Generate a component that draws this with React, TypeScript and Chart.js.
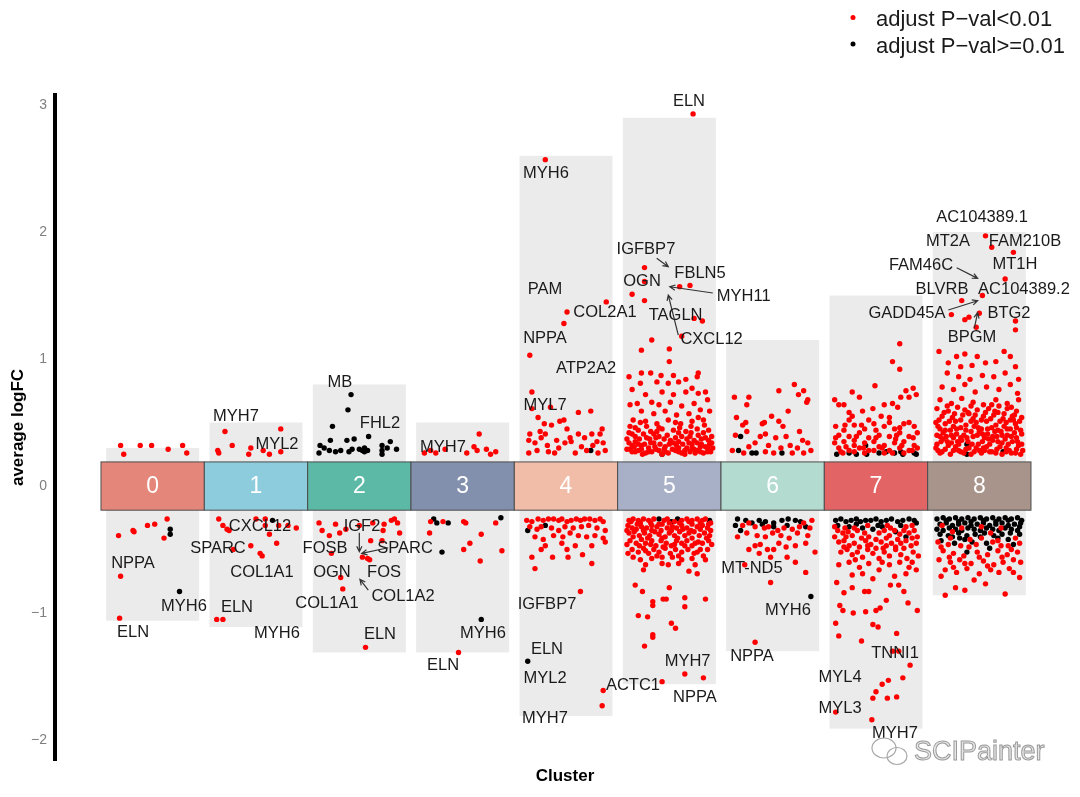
import { useEffect, useRef } from 'react';
import { Chart, registerables } from 'chart.js';

Chart.register(...registerables);

const FONT = "'Liberation Sans', Arial, sans-serif";

const clusters = ['0', '1', '2', '3', '4', '5', '6', '7', '8'];
const clusterColors = ['#E4877A', '#8DCCDD', '#5BB9A6', '#8290AE', '#F1BDA8', '#A8B0C8', '#B3DBCF', '#E26464', '#A8948A'];
const columnTop = [0.30, 0.50, 0.80, 0.50, 2.60, 2.90, 1.15, 1.50, 2.00];
const columnBottom = [-1.06, -1.11, -1.31, -1.31, -1.81, -1.56, -1.30, -1.91, -0.86];
const yTicks = [-2, -1, 0, 1, 2, 3];

// [jitter offset within cluster, average logFC]
const sig0 = [[-0.31,0.32],[-0.28,0.25],[-0.12,0.32],[-0.01,0.32],[0.15,0.29],[0.29,0.32],[0.33,0.26],
  [0.14,-0.26],[-0.33,-0.39],[-0.19,-0.35],[-0.18,-0.36],[-0.05,-0.31],[0.02,-0.30],[0.11,-0.41],[-0.31,-0.71],[-0.32,-1.04]];
const ns0 = [[0.17,-0.34],[0.17,-0.38],[0.26,-0.83]];

const sig1 = [[-0.30,0.43],[-0.37,0.28],[-0.36,0.26],[-0.23,0.32],[-0.05,0.30],[-0.07,0.25],[0.07,0.28],[0.13,0.25],[0.24,0.45],[0.24,0.27],
  [-0.36,-0.26],[-0.32,-0.31],[-0.26,-0.35],[-0.28,-0.34],[0.0,-0.26],[0.09,-0.26],[0.09,-0.31],[0.13,-0.38],[0.22,-0.31],[0.31,-0.31],[0.39,-0.33],
  [0.2,-0.45],[-0.05,-0.47],[-0.22,-0.50],[0.04,-0.53],[0.06,-0.55],[-0.38,-1.05],[-0.32,-1.05]];
const ns1 = [[0.16,-0.27]];

const sig2 = [[-0.39,-0.29],[-0.36,-0.35],[-0.29,-0.39],[-0.19,-0.37],[-0.13,-0.34],[-0.23,-0.30],[0.0,-0.31],[0.13,-0.29],[0.24,-0.30],[0.23,-0.35],
  [0.34,-0.26],[0.37,-0.29],[0.39,-0.37],[0.31,-0.27],[0.11,-0.43],[0.22,-0.43],[-0.27,-0.53],[0.03,-0.56],[0.08,-0.57],[0.10,-0.58],[-0.18,-0.72],[-0.16,-0.81],[0.06,-1.27]];
const ns2 = [[-0.08,0.72],[-0.11,0.60],[-0.26,0.47],[0.09,0.39],[-0.28,0.36],[-0.12,0.36],[-0.05,0.37],[0.30,0.35],[-0.38,0.32],[-0.34,0.30],
  [-0.29,0.28],[-0.39,0.26],[-0.23,0.27],[-0.18,0.28],[-0.10,0.27],[-0.07,0.29],[0.0,0.29],[0.03,0.28],[0.05,0.27],[0.08,0.28],[0.05,0.30],
  [0.22,0.28],[0.22,0.32],[0.27,0.30],[0.36,0.29],[0.22,0.25]];

const sig3 = [[0.16,0.41],[-0.37,0.26],[-0.31,0.28],[-0.26,0.26],[-0.17,0.29],[0.04,0.26],[0.11,0.31],[0.14,0.28],[0.23,0.29],[0.27,0.25],[0.32,0.27],
  [-0.31,-0.28],[-0.19,-0.28],[0.01,-0.28],[0.03,-0.29],[-0.32,-0.37],[0.18,-0.38],[0.32,-0.29],[0.07,-0.45],[0.01,-0.50],[0.17,-0.59],[0.38,-0.51],[-0.04,-1.31]];
const ns3 = [[-0.28,-0.26],[-0.25,-0.29],[-0.14,-0.29],[0.37,-0.25],[-0.2,-0.52],[0.18,-1.05]];

const sig4 = [[-0.20,2.57],[0.39,1.45],[0.01,1.37],[-0.02,1.28],[-0.35,1.03],[-0.33,0.74],[-0.33,0.61],[-0.15,0.62],[0.12,0.58],[0.24,0.59],
  [-0.27,0.54],[-0.21,0.49],[-0.14,0.48],[-0.06,0.51],[-0.02,0.52],[-0.25,0.43],[-0.35,0.41],[-0.20,0.41],[-0.09,0.36],[0.01,0.45],[0.04,0.38],
  [0.05,0.35],[0.12,0.41],[0.18,0.38],[0.35,0.45],[0.33,0.41],[0.30,0.35],[0.36,0.34],[0.38,0.28],[-0.36,0.36],[-0.30,0.34],[-0.36,0.26],
  [-0.28,0.28],[-0.17,0.27],[-0.11,0.26],[-0.07,0.30],[0.15,0.31],[0.20,0.28],[0.26,0.32],[0.31,0.26],[-0.24,0.38],[0.25,0.41],[0.09,0.26],
  [-0.18,0.32],[-0.01,0.34],
  [-0.38,-0.27],[-0.33,-0.28],[-0.27,-0.26],[-0.22,-0.27],[-0.17,-0.26],[-0.12,-0.26],[-0.07,-0.27],[-0.04,-0.26],[0.01,-0.28],[0.05,-0.27],
  [0.10,-0.26],[0.14,-0.27],[0.18,-0.26],[0.23,-0.26],[0.28,-0.27],[0.33,-0.26],[0.36,-0.28],
  [-0.35,-0.32],[-0.28,-0.34],[-0.24,-0.32],[-0.14,-0.33],[-0.07,-0.35],[-0.01,-0.32],[0.07,-0.33],[0.15,-0.32],[0.22,-0.31],[0.30,-0.33],[0.38,-0.35],
  [-0.30,-0.40],[-0.22,-0.42],[-0.12,-0.39],[-0.03,-0.40],[0.04,-0.37],[0.12,-0.39],[0.20,-0.40],[0.28,-0.39],[0.36,-0.41],
  [-0.20,-0.47],[-0.04,-0.45],[0.09,-0.47],[0.25,-0.47],[0.38,-0.44],[-0.24,-0.50],[0.01,-0.50],
  [-0.33,-0.56],[-0.30,-0.65],[-0.13,-0.56],[0.02,-0.56],[0.16,-0.54],[0.25,-0.61],[0.14,-0.83],[0.36,-1.61],[0.35,-1.73]];
const ns4 = [[0.24,0.28],[-0.37,-0.35],[-0.20,-0.31],[-0.37,-1.38]];

const sig5 = [[0.23,2.93],[-0.24,1.72],[0.10,1.57],[0.20,1.58],[-0.24,1.61],[-0.36,1.51],[-0.24,1.46],[0.24,1.32],[0.32,1.30],[0.12,1.18],
  [-0.17,1.15],[-0.27,1.07],[0.0,1.08],[0.0,0.98],
  [-0.39,0.86],[-0.27,0.89],[-0.18,0.89],[-0.08,0.87],[0.04,0.87],[0.16,0.84],[0.27,0.86],[0.28,0.89],[-0.28,0.81],[-0.12,0.82],[-0.01,0.81],
  [0.09,0.82],[0.22,0.77],[0.35,0.74],[-0.36,0.76],[-0.23,0.72],[-0.07,0.74],[0.04,0.72],[0.16,0.74],[0.28,0.73],[-0.31,0.65],[-0.17,0.66],
  [-0.10,0.64],[0.01,0.66],[0.12,0.63],[0.24,0.65],[0.37,0.68],[-0.38,0.64],[-0.27,0.59],[-0.15,0.57],[-0.04,0.59],[0.07,0.56],[0.19,0.57],
  [0.30,0.60],[0.39,0.59],[-0.35,0.52],[-0.23,0.51],[-0.12,0.49],[-0.01,0.52],[0.11,0.49],[0.22,0.51],[0.33,0.52],[-0.38,0.47],[-0.30,0.44],
  [-0.18,0.43],[-0.07,0.45],[0.04,0.44],[0.16,0.43],[0.27,0.45],[0.38,0.44],[-0.33,0.39],[-0.22,0.38],[-0.10,0.39],[0.01,0.36],[0.12,0.39],
  [0.24,0.36],[0.35,0.38],[-0.39,0.34],[-0.27,0.32],[-0.15,0.34],[-0.04,0.31],[0.07,0.32],[0.19,0.34],[0.30,0.31],[0.41,0.34],[-0.36,0.27],
  [-0.30,0.28],[-0.23,0.26],[-0.17,0.27],[-0.10,0.28],[-0.01,0.26],[0.06,0.28],[0.12,0.26],[0.20,0.27],[0.27,0.28],[0.33,0.26],[0.40,0.27],
  [-0.34,0.31],[-0.20,0.30],[-0.07,0.25],[0.17,0.30],[0.37,0.30],[-0.33,0.35],[-0.12,0.43],[0.09,0.35],[0.28,0.40],[-0.39,0.42],[0.41,0.39],
  [-0.26,0.25],[0.15,0.25],[0.25,0.26],[-0.05,0.29],[0.22,0.30],[-0.14,0.31],[0.31,0.33],[-0.30,0.33],[0.09,0.27],[-0.38,0.29],[0.35,0.31],
  [-0.41,0.29],[-0.33,0.27],[-0.27,0.29],[-0.20,0.27],[-0.13,0.29],[-0.04,0.27],[0.03,0.29],[0.09,0.30],[0.15,0.28],[0.24,0.29],[0.30,0.27],
  [0.37,0.27],[0.42,0.30],[-0.36,0.32],[-0.24,0.33],[-0.18,0.34],[-0.09,0.33],[0.0,0.33],[0.04,0.34],[0.13,0.33],[0.22,0.33],[0.27,0.34],
  [0.39,0.33],[-0.41,0.37],[-0.29,0.37],[-0.19,0.37],[-0.13,0.38],[-0.05,0.37],[0.06,0.38],[0.17,0.37],[0.20,0.39],[0.31,0.37],[0.38,0.36],
  [-0.36,0.41],[-0.25,0.41],[-0.15,0.41],[-0.02,0.40],[0.09,0.42],[0.21,0.42],[0.33,0.42],[-0.33,0.46],[-0.22,0.47],[-0.10,0.46],[0.10,0.46],
  [0.21,0.47],[0.34,0.48],[-0.28,0.50],[0.06,0.50],[0.28,0.54],
  [-0.39,-0.27],[-0.35,-0.26],[-0.30,-0.27],[-0.25,-0.26],[-0.20,-0.27],[-0.15,-0.26],[-0.05,-0.27],[-0.02,-0.26],[0.12,-0.27],[0.17,-0.26],
  [0.22,-0.27],[0.27,-0.26],[0.32,-0.27],[0.35,-0.26],
  [-0.40,-0.31],[-0.36,-0.33],[-0.31,-0.30],[-0.27,-0.32],[-0.22,-0.33],[-0.17,-0.31],[-0.12,-0.32],[-0.07,-0.30],[-0.02,-0.33],[0.03,-0.32],
  [0.07,-0.33],[0.12,-0.31],[0.17,-0.33],[0.22,-0.30],[0.27,-0.32],[0.32,-0.31],[0.37,-0.33],[0.40,-0.29],
  [-0.39,-0.37],[-0.34,-0.36],[-0.29,-0.39],[-0.24,-0.37],[-0.19,-0.39],[-0.14,-0.36],[-0.10,-0.38],[-0.04,-0.40],[0.0,-0.37],[0.05,-0.39],
  [0.10,-0.36],[0.15,-0.39],[0.19,-0.37],[0.24,-0.36],[0.29,-0.39],[0.34,-0.37],[0.39,-0.39],
  [-0.38,-0.43],[-0.32,-0.45],[-0.27,-0.42],[-0.23,-0.45],[-0.17,-0.43],[-0.13,-0.47],[-0.08,-0.43],[-0.03,-0.45],[0.02,-0.47],[0.07,-0.43],
  [0.12,-0.45],[0.17,-0.43],[0.22,-0.47],[0.28,-0.44],[0.32,-0.45],[0.38,-0.43],
  [-0.36,-0.50],[-0.30,-0.52],[-0.25,-0.49],[-0.20,-0.53],[-0.15,-0.50],[-0.10,-0.52],[-0.04,-0.49],[0.01,-0.53],[0.06,-0.50],[0.12,-0.52],
  [0.18,-0.50],[0.24,-0.53],[0.30,-0.50],[0.37,-0.50],
  [-0.35,-0.56],[-0.28,-0.58],[-0.17,-0.57],[-0.07,-0.56],[0.03,-0.56],[0.12,-0.58],[0.22,-0.57],[0.35,-0.58],
  [-0.23,-0.62],[-0.25,-0.66],[-0.07,-0.61],[-0.01,-0.62],[0.09,-0.61],[0.25,-0.62],[0.27,-0.69],[0.19,-0.67],
  [-0.37,-0.28],[-0.28,-0.29],[-0.18,-0.29],[-0.10,-0.30],[0.0,-0.29],[0.05,-0.28],[0.10,-0.29],[0.19,-0.28],[0.30,-0.29],[0.38,-0.30],
  [-0.41,-0.35],[-0.32,-0.34],[-0.25,-0.35],[-0.17,-0.35],[-0.08,-0.35],[0.02,-0.35],[0.13,-0.34],[0.21,-0.35],[0.30,-0.34],[0.40,-0.35],
  [-0.35,-0.40],[-0.21,-0.41],[-0.07,-0.41],[0.08,-0.41],[0.22,-0.41],[0.36,-0.41],
  [-0.41,-0.46],[-0.29,-0.47],[-0.18,-0.46],[-0.06,-0.48],[0.05,-0.46],[0.15,-0.47],[0.25,-0.45],[0.41,-0.46],
  [-0.40,-0.53],[-0.23,-0.51],[-0.12,-0.55],[0.09,-0.55],[0.27,-0.52],[0.33,-0.55],
  [-0.33,-0.78],[-0.26,-0.83],[-0.30,-1.02],[-0.21,-1.03],[-0.16,-0.91],[-0.16,-0.94],[-0.06,-0.89],[-0.03,-0.89],[0.0,-0.80],[0.15,-0.88],
  [0.15,-0.95],[0.35,-0.89],[0.02,-1.08],[0.06,-1.12],[-0.16,-1.17],[-0.16,-1.19],[-0.24,-1.26],[0.15,-1.48],[0.33,-1.51],[-0.07,-1.54]];
const ns5 = [[-0.07,0.25],[0.38,0.28],[-0.10,-0.26],[0.02,-0.28],[0.08,-0.26],[0.39,-0.27]];

const sig6 = [[-0.37,0.70],[-0.23,0.70],[-0.25,0.64],[-0.35,0.54],[0.06,0.75],[0.21,0.80],[0.30,0.75],[0.25,0.72],[0.34,0.68],[0.33,0.66],
  [0.15,0.59],[-0.01,0.55],[-0.08,0.50],[-0.10,0.49],[0.06,0.51],[0.10,0.47],[-0.29,0.48],[-0.26,0.50],[-0.07,0.41],[0.03,0.38],[-0.36,0.40],
  [-0.25,0.43],[-0.17,0.34],[-0.12,0.39],[-0.04,0.32],[0.13,0.39],[0.17,0.32],[0.26,0.43],[0.29,0.36],[0.34,0.34],[0.37,0.28],[0.24,0.30],
  [0.08,0.30],[-0.07,0.27],[-0.23,0.31],[-0.39,0.28],[0.01,0.26],[0.19,0.26],[0.30,0.26],[-0.28,0.26],
  [-0.29,-0.31],[-0.23,-0.29],[-0.17,-0.32],[-0.08,-0.33],[-0.04,-0.32],[0.05,-0.35],[0.11,-0.33],[0.19,-0.34],[0.26,-0.32],[0.30,-0.29],
  [0.38,-0.27],[0.36,-0.33],[-0.34,-0.40],[-0.25,-0.37],[-0.15,-0.39],[-0.07,-0.40],[0.0,-0.37],[0.08,-0.39],[0.16,-0.41],[0.24,-0.37],
  [0.34,-0.39],[-0.23,-0.50],[-0.17,-0.47],[-0.12,-0.46],[-0.05,-0.50],[0.01,-0.50],[0.06,-0.45],[0.13,-0.48],[0.22,-0.47],[0.32,-0.45],
  [0.41,-0.52],[0.22,-0.60],[0.14,-0.56],[-0.02,-0.56],[-0.13,-0.53],[0.32,-0.68],[-0.02,-0.76],[-0.27,-0.62],[-0.17,-1.23]];
const ns6 = [[-0.31,0.39],[-0.33,0.28],[-0.20,0.26],[-0.16,0.26],[0.09,0.26],
  [-0.34,-0.26],[-0.26,-0.27],[-0.20,-0.29],[-0.13,-0.27],[-0.07,-0.28],[0.01,-0.29],[0.09,-0.27],[0.15,-0.26],[0.22,-0.27],[0.27,-0.28],
  [-0.31,-0.35],[0.01,-0.32],[0.14,-0.31],[0.32,-0.32],[-0.10,-0.30],[-0.36,-0.31],[0.37,-0.87]];

const sig7 = [[0.23,1.12],[0.16,0.98],[0.23,0.92],[-0.01,0.79],[-0.23,0.74],[0.36,0.77],[0.29,0.75],[-0.16,0.70],[0.39,0.72],[-0.40,0.68],
  [-0.31,0.64],[-0.36,0.64],[0.08,0.64],[0.16,0.65],[0.21,0.62],[0.24,0.70],[0.32,0.70],[-0.26,0.58],[-0.23,0.55],[-0.13,0.59],[-0.03,0.61],
  [0.05,0.55],[0.13,0.54],
  [-0.39,0.47],[-0.31,0.44],[-0.21,0.48],[-0.11,0.45],[-0.02,0.49],[0.08,0.47],[0.18,0.45],[0.27,0.49],[0.37,0.47],
  [-0.36,0.40],[-0.26,0.39],[-0.16,0.42],[-0.07,0.38],[0.03,0.40],[0.13,0.39],[0.23,0.42],[0.32,0.39],[0.40,0.42],
  [-0.40,0.34],[-0.31,0.35],[-0.21,0.32],[-0.11,0.34],[-0.02,0.35],[0.08,0.32],[0.18,0.34],[0.27,0.35],[0.37,0.32],
  [-0.36,0.30],[-0.26,0.28],[-0.16,0.30],[-0.07,0.28],[0.03,0.31],[0.13,0.28],[0.23,0.30],[0.32,0.28],[0.40,0.30],
  [-0.32,0.26],[-0.11,0.26],[0.08,0.26],[0.27,0.26],[-0.21,0.36],[0.19,0.37],[-0.26,0.52],[-0.07,0.52],[0.13,0.50],[0.32,0.50],
  [-0.34,0.27],[-0.21,0.27],[-0.02,0.28],[0.16,0.26],[0.35,0.28],[-0.29,0.31],[-0.12,0.30],[0.06,0.30],[0.25,0.32],[-0.39,0.38],
  [-0.19,0.39],[0.0,0.38],[0.20,0.40],[0.36,0.38],[-0.30,0.48],[0.00,0.44],[0.23,0.46],[-0.14,0.48],
  [-0.37,-0.35],[-0.32,-0.37],[-0.27,-0.36],[-0.23,-0.39],[-0.18,-0.35],[-0.11,-0.37],[-0.07,-0.40],[0.03,-0.37],[0.08,-0.35],[0.13,-0.39],
  [0.18,-0.35],[0.23,-0.38],[0.27,-0.35],[0.32,-0.37],[0.37,-0.35],[0.40,-0.40],
  [-0.36,-0.44],[-0.31,-0.43],[-0.26,-0.47],[-0.21,-0.45],[-0.16,-0.48],[-0.10,-0.43],[-0.05,-0.46],[0.0,-0.49],[0.05,-0.44],[0.10,-0.47],
  [0.15,-0.45],[0.19,-0.48],[0.24,-0.45],[0.29,-0.43],[0.34,-0.47],[0.39,-0.45],
  [-0.34,-0.52],[-0.28,-0.50],[-0.23,-0.54],[-0.18,-0.52],[-0.13,-0.56],[-0.08,-0.50],[-0.03,-0.53],[0.03,-0.57],[0.08,-0.52],[0.13,-0.55],
  [0.19,-0.50],[0.24,-0.54],[0.30,-0.57],[0.36,-0.52],[0.41,-0.55],
  [-0.36,-0.62],[-0.26,-0.60],[-0.16,-0.64],[-0.07,-0.61],[0.03,-0.66],[0.13,-0.62],[0.23,-0.60],[0.32,-0.64],[0.39,-0.66],
  [-0.23,-0.70],[-0.13,-0.69],[-0.03,-0.73],[0.18,-0.71],[0.29,-0.69],
  [-0.40,-0.32],[-0.30,-0.33],[-0.21,-0.33],[-0.08,-0.31],[0.11,-0.31],[0.14,-0.33],[0.29,-0.32],[0.35,-0.31],
  [-0.40,-0.40],[-0.29,-0.40],[-0.14,-0.41],[0.0,-0.42],[0.10,-0.41],[0.21,-0.42],[0.35,-0.41],
  [-0.31,-0.48],[-0.08,-0.47],[0.07,-0.49],[0.27,-0.49],[-0.20,-0.58],[0.06,-0.60],[0.35,-0.60],
  [-0.38,-0.76],[-0.31,-0.84],[-0.23,-0.80],[-0.11,-0.83],[-0.07,-0.83],[0.14,-0.78],[0.22,-0.78],[0.27,-0.83],[0.31,-0.92],[-0.35,-0.94],
  [-0.32,-0.98],[-0.22,-1.00],[-0.10,-0.99],[0.0,-0.98],[0.04,-0.96],[0.10,-0.90],[0.40,-0.98],[-0.39,-1.08],[-0.03,-1.09],[0.02,-1.11],
  [-0.36,-1.18],[-0.14,-1.22],[0.20,-1.16],[0.16,-1.30],[0.22,-1.30],[0.33,-1.41],[0.26,-1.51],[0.12,-1.53],[0.06,-1.56],[0.0,-1.62],
  [-0.03,-1.67],[0.11,-1.67],[0.20,-1.66],[-0.39,-1.78],[-0.04,-1.84]];
const ns7 = [[-0.38,0.25],[-0.26,0.26],[-0.19,0.25],[-0.09,0.25],[0.03,0.26],[0.10,0.27],[0.18,0.26],[0.24,0.27],[0.26,0.25],[0.37,0.26],
  [0.39,0.25],[-0.10,0.32],
  [-0.39,-0.27],[-0.34,-0.26],[-0.29,-0.28],[-0.24,-0.27],[-0.19,-0.26],[-0.15,-0.28],[-0.10,-0.27],[-0.05,-0.27],[0.0,-0.26],[0.05,-0.28],
  [0.10,-0.27],[0.15,-0.26],[0.21,-0.28],[0.26,-0.27],[0.32,-0.26],[0.37,-0.27],[-0.37,-0.31],[-0.26,-0.32],[-0.13,-0.33],[-0.03,-0.34],
  [0.06,-0.32],[0.19,-0.36],[0.29,-0.40],[-0.19,-0.30],[0.02,-0.31],[0.39,-0.29],[0.24,-0.31]];

const sig8 = [[0.06,1.97],[0.12,1.88],[0.33,1.84],[0.25,1.63],[0.03,1.50],[-0.17,1.46],[-0.27,1.35],[0.0,1.36],[0.35,1.30],[0.35,1.23],
  [-0.10,1.33],[-0.14,1.31],[-0.03,1.25],
  [-0.39,1.06],[-0.30,0.97],[-0.22,1.02],[-0.14,1.04],[-0.18,0.94],[-0.07,0.95],[-0.02,1.02],[0.06,0.97],[0.16,0.98],[0.24,1.06],[0.30,1.02],
  [0.35,0.94],[-0.31,0.89],[-0.20,0.86],[-0.09,0.84],[0.03,0.87],[0.14,0.86],[0.25,0.89],[0.38,0.84],[-0.36,0.78],[-0.25,0.76],[-0.14,0.80],
  [-0.04,0.74],[0.07,0.78],[0.19,0.76],[0.30,0.80],[0.37,0.73],[-0.38,0.68],[-0.27,0.65],[-0.17,0.69],[-0.06,0.66],[0.04,0.64],[0.16,0.68],
  [0.27,0.65],[0.38,0.68],
  [-0.41,0.61],[-0.30,0.59],[-0.21,0.62],[-0.11,0.58],[-0.02,0.60],[0.09,0.61],[0.18,0.58],[0.27,0.61],[0.36,0.59],
  [-0.36,0.55],[-0.26,0.54],[-0.16,0.56],[-0.06,0.53],[0.04,0.55],[0.14,0.56],[0.23,0.53],[0.32,0.55],[0.41,0.54],
  [-0.42,0.50],[-0.33,0.49],[-0.23,0.51],[-0.13,0.48],[-0.03,0.50],[0.07,0.51],[0.16,0.48],[0.26,0.50],[0.35,0.49],
  [-0.38,0.45],[-0.28,0.44],[-0.18,0.46],[-0.08,0.43],[0.02,0.45],[0.12,0.46],[0.21,0.43],[0.30,0.45],[0.40,0.44],
  [-0.41,0.40],[-0.32,0.39],[-0.22,0.41],[-0.12,0.38],[-0.02,0.40],[0.08,0.41],[0.17,0.39],[0.27,0.40],[0.36,0.38],
  [-0.37,0.35],[-0.27,0.34],[-0.17,0.36],[-0.07,0.33],[0.03,0.35],[0.13,0.36],[0.22,0.34],[0.32,0.35],[0.41,0.33],
  [-0.42,0.30],[-0.33,0.29],[-0.23,0.31],[-0.13,0.29],[-0.03,0.30],[0.07,0.31],[0.17,0.29],[0.26,0.30],[0.36,0.29],
  [-0.38,0.26],[-0.28,0.25],[-0.18,0.27],[-0.08,0.25],[0.02,0.26],[0.12,0.27],[0.22,0.25],[0.31,0.26],[0.40,0.25],
  [-0.35,0.42],[-0.05,0.47],[0.25,0.37],[0.10,0.33],[-0.20,0.28],[0.33,0.52],[-0.10,0.57],[0.19,0.63],[-0.25,0.38],[0.05,0.28],
  [-0.40,0.28],[-0.30,0.32],[-0.20,0.33],[-0.10,0.30],[0.0,0.28],[0.10,0.27],[0.20,0.31],[0.29,0.28],[0.38,0.32],[-0.35,0.37],
  [-0.15,0.40],[0.05,0.38],[0.15,0.43],[0.34,0.42],[-0.25,0.47],[0.0,0.43],[0.24,0.47],[-0.40,0.47],
  [-0.36,0.27],[-0.25,0.28],[-0.15,0.26],[-0.05,0.27],[0.04,0.30],[0.16,0.26],[0.26,0.27],[0.35,0.26],[0.42,0.28],
  [-0.41,0.33],[-0.31,0.35],[-0.21,0.35],[-0.11,0.35],[-0.01,0.33],[0.09,0.37],[0.18,0.35],[0.28,0.33],[0.37,0.35],
  [-0.38,0.39],[-0.27,0.40],[-0.18,0.38],[-0.06,0.39],[0.03,0.41],[0.13,0.39],[0.22,0.40],[0.31,0.39],[0.41,0.41],
  [-0.33,0.44],[-0.22,0.45],[-0.13,0.44],[-0.01,0.46],[0.08,0.45],[0.18,0.44],[0.27,0.45],[0.36,0.46],
  [-0.39,0.52],[-0.29,0.51],[-0.18,0.52],[-0.08,0.51],[0.02,0.52],[0.11,0.53],[0.20,0.51],[0.30,0.52],[0.39,0.51],
  [-0.34,0.58],[-0.24,0.57],[-0.14,0.60],[-0.04,0.56],[0.06,0.58],[0.15,0.59],[0.24,0.57],[0.34,0.56],
  [-0.31,0.63],[-0.08,0.63],[0.12,0.64],[0.31,0.62],
  [-0.36,-0.31],[-0.17,-0.33],[0.02,-0.32],[0.21,-0.33],[-0.26,-0.36],[0.11,-0.37],[0.35,-0.41],
  [-0.40,-0.44],[-0.30,-0.46],[-0.18,-0.47],[-0.03,-0.46],[0.13,-0.44],[0.21,-0.47],[0.39,-0.45],
  [-0.35,-0.51],[-0.25,-0.53],[-0.15,-0.55],[-0.02,-0.52],[0.08,-0.54],[0.18,-0.51],[0.27,-0.54],[0.37,-0.52],
  [-0.39,-0.58],[-0.28,-0.60],[-0.19,-0.58],[-0.08,-0.61],[0.04,-0.59],[0.14,-0.62],[0.23,-0.60],[0.33,-0.58],
  [-0.33,-0.66],[-0.22,-0.68],[-0.12,-0.65],[0.0,-0.69],[0.11,-0.66],[0.19,-0.68],[0.29,-0.65],[0.39,-0.72],[-0.37,-0.71],
  [-0.23,-0.80],[-0.14,-0.82],[-0.33,-0.86],[0.25,-0.85],[0.06,-0.77],[-0.05,-0.74],
  [-0.28,-0.41],[-0.09,-0.42],[0.02,-0.41],[0.18,-0.43],[0.28,-0.47],[-0.37,-0.48],[-0.10,-0.48],[0.31,-0.50],[-0.29,-0.56],[0.00,-0.56],
  [0.22,-0.56],[0.40,-0.60],[-0.14,-0.61],[-0.25,-0.64],[0.08,-0.63],[0.33,-0.68]];
const ns8 = [[-0.12,0.33],[-0.12,0.25],[0.23,0.27],
  [-0.41,-0.26],[-0.35,-0.25],[-0.29,-0.26],[-0.23,-0.25],[-0.17,-0.26],[-0.11,-0.25],[-0.05,-0.26],[0.01,-0.25],[0.07,-0.26],[0.13,-0.25],
  [0.19,-0.26],[0.25,-0.25],[0.31,-0.26],[0.37,-0.25],[0.41,-0.27],
  [-0.38,-0.30],[-0.32,-0.29],[-0.26,-0.31],[-0.20,-0.30],[-0.14,-0.29],[-0.08,-0.31],[-0.02,-0.30],[0.04,-0.29],[0.10,-0.31],[0.16,-0.30],
  [0.22,-0.29],[0.28,-0.31],[0.34,-0.30],[0.40,-0.29],
  [-0.41,-0.34],[-0.35,-0.35],[-0.29,-0.33],[-0.23,-0.34],[-0.17,-0.35],[-0.11,-0.33],[-0.05,-0.34],[0.01,-0.35],[0.07,-0.33],[0.13,-0.34],
  [0.19,-0.35],[0.25,-0.33],[0.31,-0.34],[0.37,-0.35],
  [-0.38,-0.38],[-0.30,-0.39],[-0.20,-0.37],[-0.12,-0.39],[-0.04,-0.38],[0.05,-0.37],[0.14,-0.39],[0.22,-0.38],[0.30,-0.37],[0.39,-0.38],
  [-0.37,-0.43],[-0.24,-0.45],[-0.14,-0.42],[-0.07,-0.44],[0.07,-0.45],[0.28,-0.42],[0.33,-0.46],[-0.12,-0.52],[-0.19,-0.41],[0.10,-0.49],
  [-0.32,-0.27],[-0.20,-0.28],[-0.08,-0.28],[0.04,-0.27],[0.16,-0.28],[0.28,-0.27],[0.39,-0.32],[-0.26,-0.40],[0.18,-0.41],[0.01,-0.40]];

const sigByCluster = [sig0, sig1, sig2, sig3, sig4, sig5, sig6, sig7, sig8];
const nsByCluster = [ns0, ns1, ns2, ns3, ns4, ns5, ns6, ns7, ns8];

// gene label text, x (cluster axis units), average logFC
const geneLabels: [string, number, number][] = [
  ['NPPA', -0.19, -0.606], ['MYH6', 0.303, -0.945], ['ELN', -0.19, -1.15],
  ['MYH7', 0.806, 0.551], ['MYL2', 1.203, 0.331], ['CXCL12', 1.039, -0.315], ['SPARC', 0.632, -0.488],
  ['COL1A1', 1.058, -0.677], ['ELN', 0.816, -0.953], ['MYH6', 1.203, -1.158],
  ['MB', 1.813, 0.819], ['FHL2', 2.2, 0.496], ['IGF2', 2.026, -0.315], ['FOSB', 1.668, -0.488], ['SPARC', 2.442, -0.488],
  ['OGN', 1.735, -0.677], ['FOS', 2.239, -0.677], ['COL1A2', 2.423, -0.866], ['COL1A1', 1.687, -0.921], ['ELN', 2.2, -1.165],
  ['MYH7', 2.81, 0.307], ['MYH6', 3.197, -1.158], ['ELN', 2.81, -1.409],
  ['MYH6', 3.807, 2.465], ['PAM', 3.797, 1.551], ['COL2A1', 4.377, 1.37], ['NPPA', 3.797, 1.165], ['ATP2A2', 4.194, 0.929],
  ['MYL7', 3.797, 0.638], ['IGFBP7', 3.816, -0.929], ['ELN', 3.816, -1.283], ['MYL2', 3.797, -1.512], ['MYH7', 3.797, -1.827],
  ['ACTC1', 4.648, -1.567],
  ['ELN', 5.19, 3.031], ['IGFBP7', 4.774, 1.866], ['OGN', 4.736, 1.614], ['FBLN5', 5.297, 1.677], ['MYH11', 5.72, 1.496],
  ['TAGLN', 5.061, 1.346], ['CXCL12', 5.409, 1.157], ['MYH7', 5.177, -1.378], ['NPPA', 5.248, -1.661],
  ['MT-ND5', 5.80, -0.646], ['MYH6', 6.149, -0.976], ['NPPA', 5.80, -1.339],
  ['GADD45A', 7.30, 1.362], ['TNNI1', 7.184, -1.315], ['MYL4', 6.652, -1.504], ['MYL3', 6.652, -1.748], ['MYH7', 7.184, -1.945],
  ['AC104389.1', 8.026, 2.118], ['MT2A', 7.697, 1.929], ['FAM210B', 8.442, 1.929], ['FAM46C', 7.436, 1.74], ['MT1H', 8.345, 1.748],
  ['BLVRB', 7.639, 1.551], ['AC104389.2', 8.432, 1.551], ['BTG2', 8.287, 1.362], ['BPGM', 7.929, 1.173],
];

// label connector arrows: from (x1, y1) to (x2, y2)
const labelArrows: [number, number, number, number][] = [
  [2.0, -0.367, 2.0, -0.517],
  [2.28, -0.486, 2.023, -0.53],
  [2.087, -0.819, 2.006, -0.735],
  [4.878, 1.793, 4.99, 1.727],
  [5.421, 1.52, 5.005, 1.569],
  [5.087, 1.189, 4.99, 1.504],
  [7.781, 1.719, 7.984, 1.635],
  [7.70, 1.386, 7.984, 1.459],
  [7.951, 1.242, 7.984, 1.365],
];

const legendItems = [
  { text: 'adjust P\u2212val<0.01', color: '#FF0000' },
  { text: 'adjust P\u2212val>=0.01', color: '#000000' },
];

const toPoints = (groups: number[][][]) =>
  groups.flatMap((arr, i) => arr.map(([o, v]) => ({ x: i + o, y: v })));

const decorPlugin = {
  id: 'decor',
  beforeDatasetsDraw(chart: any) {
    const { ctx, scales } = chart;
    const xs = scales.x, ys = scales.y;
    ctx.save();
    ctx.fillStyle = '#EBEBEB';
    clusters.forEach((_, i) => {
      const l = xs.getPixelForValue(i - 0.45);
      const r = xs.getPixelForValue(i + 0.45);
      const t = ys.getPixelForValue(columnTop[i]);
      const b = ys.getPixelForValue(columnBottom[i]);
      ctx.fillRect(l, t, r - l, b - t);
    });
    ctx.restore();
  },
  afterDatasetsDraw(chart: any) {
    const { ctx, scales } = chart;
    const xs = scales.x, ys = scales.y;
    ctx.save();
    clusters.forEach((name, i) => {
      const l = xs.getPixelForValue(i - 0.5);
      const r = xs.getPixelForValue(i + 0.5);
      const t = ys.getPixelForValue(0.19);
      const b = ys.getPixelForValue(-0.19);
      ctx.fillStyle = clusterColors[i];
      ctx.fillRect(l, t, r - l, b - t);
      ctx.strokeStyle = '#4D4D4D';
      ctx.lineWidth = 1;
      ctx.strokeRect(l, t, r - l, b - t);
      ctx.fillStyle = '#FFFFFF';
      ctx.font = `23px ${FONT}`;
      ctx.textAlign = 'center';
      ctx.textBaseline = 'middle';
      ctx.fillText(name, (l + r) / 2, (t + b) / 2 + 1);
    });
    ctx.strokeStyle = '#333333';
    ctx.lineWidth = 1.2;
    labelArrows.forEach(([x1, y1, x2, y2]) => {
      const px1 = xs.getPixelForValue(x1), py1 = ys.getPixelForValue(y1);
      const px2 = xs.getPixelForValue(x2), py2 = ys.getPixelForValue(y2);
      ctx.beginPath();
      ctx.moveTo(px1, py1);
      ctx.lineTo(px2, py2);
      const a = Math.atan2(py2 - py1, px2 - px1);
      const h = 6;
      ctx.moveTo(px2 - h * Math.cos(a - 0.45), py2 - h * Math.sin(a - 0.45));
      ctx.lineTo(px2, py2);
      ctx.lineTo(px2 - h * Math.cos(a + 0.45), py2 - h * Math.sin(a + 0.45));
      ctx.stroke();
    });
    ctx.fillStyle = '#1A1A1A';
    ctx.font = `16.5px ${FONT}`;
    ctx.textAlign = 'center';
    ctx.textBaseline = 'middle';
    geneLabels.forEach(([t, x, y]) => {
      ctx.fillText(t, xs.getPixelForValue(x), ys.getPixelForValue(y));
    });
    ctx.restore();
  },
  afterDraw(chart: any) {
    const { ctx } = chart;
    ctx.save();
    ctx.font = `22px ${FONT}`;
    ctx.textAlign = 'left';
    ctx.textBaseline = 'alphabetic';
    legendItems.forEach((it, k) => {
      const cy = 17.5 + k * 26.5;
      ctx.fillStyle = it.color;
      ctx.beginPath();
      ctx.arc(853, cy, 2.5, 0, Math.PI * 2);
      ctx.fill();
      ctx.fillStyle = '#1A1A1A';
      ctx.fillText(it.text, 876, cy + 8.5);
    });
    ctx.strokeStyle = '#A8A8A8';
    ctx.lineWidth = 1.2;
    ctx.beginPath();
    ctx.ellipse(884, 748, 12, 10, 0, 0, Math.PI * 2);
    ctx.stroke();
    ctx.beginPath();
    ctx.ellipse(897, 756, 10, 8.5, 0, 0, Math.PI * 2);
    ctx.stroke();
    ctx.font = `27px ${FONT}`;
    ctx.textBaseline = 'middle';
    ctx.fillStyle = '#E6E6E6';
    ctx.fillText('SCIPainter', 914, 753);
    ctx.strokeStyle = '#9A9A9A';
    ctx.lineWidth = 1;
    ctx.strokeText('SCIPainter', 914, 753);
    ctx.restore();
  },
};

export default function App() {
  const canvasRef = useRef<HTMLCanvasElement | null>(null);

  useEffect(() => {
    if (!canvasRef.current) return;
    Chart.defaults.font.family = FONT;
    const chart = new Chart(canvasRef.current, {
      type: 'scatter',
      data: {
        datasets: [
          {
            label: legendItems[0].text,
            data: toPoints(sigByCluster),
            backgroundColor: '#FF0000',
            borderWidth: 0,
            pointRadius: 2.7,
          },
          {
            label: legendItems[1].text,
            data: toPoints(nsByCluster),
            backgroundColor: '#000000',
            borderWidth: 0,
            pointRadius: 2.7,
          },
        ],
      },
      options: {
        responsive: false,
        animation: false,
        devicePixelRatio: 1,
        layout: { padding: { left: 0, top: 95, right: 5, bottom: 0 } },
        plugins: { legend: { display: false }, tooltip: { enabled: false } },
        scales: {
          x: {
            type: 'linear',
            min: -0.945,
            max: 8.926,
            grid: { display: false, drawTicks: false },
            border: { display: false },
            ticks: { display: false },
            title: {
              display: true,
              text: 'Cluster',
              color: '#000000',
              font: { family: FONT, size: 17, weight: 'bold' },
              padding: { top: 0, bottom: 10 },
            },
            afterFit: (s: any) => { s.height = 37; },
          },
          y: {
            type: 'linear',
            min: -2.157,
            max: 3.079,
            afterBuildTicks: (s: any) => { s.ticks = yTicks.map((v) => ({ value: v })); },
            grid: { display: false, drawTicks: false },
            border: { display: true, color: '#000000', width: 4 },
            ticks: {
              color: '#7F7F7F',
              font: { family: FONT, size: 14 },
              padding: 8,
              callback: (v: any) => (Number(v) < 0 ? '\u2212' + Math.abs(Number(v)) : String(v)),
            },
            title: {
              display: true,
              text: 'average logFC',
              color: '#000000',
              font: { family: FONT, size: 17, weight: 'bold' },
              padding: { top: 8, bottom: 0 },
            },
            afterFit: (s: any) => { s.width = 55; },
          },
        },
      },
      plugins: [decorPlugin],
    });
    return () => chart.destroy();
  }, []);

  return (
    <div style={{ position: 'absolute', left: 0, top: 0, width: 1080, height: 797, background: '#FFFFFF' }}>
      <canvas ref={canvasRef} width={1080} height={797} style={{ display: 'block' }} />
    </div>
  );
}
